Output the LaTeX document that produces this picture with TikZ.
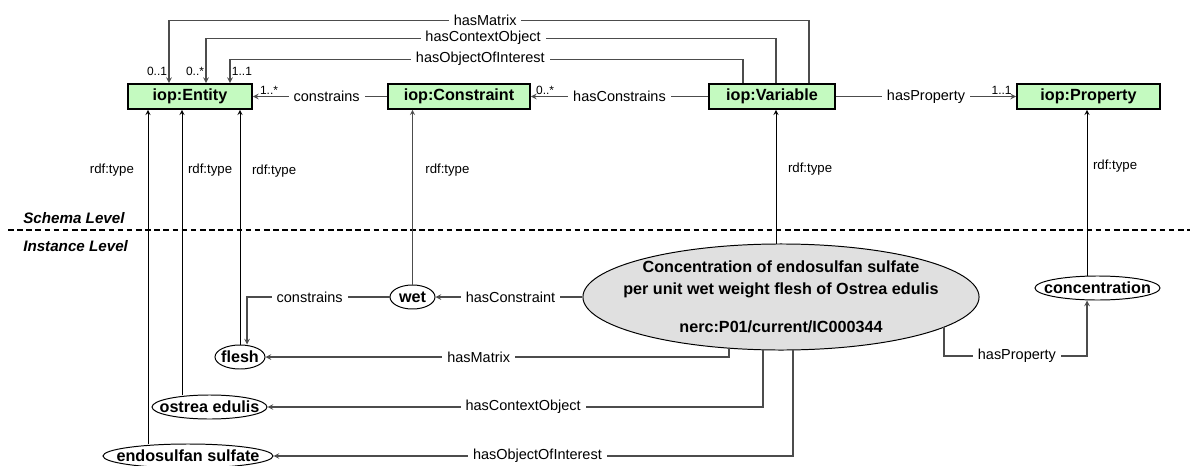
\documentclass[tikz,border=0pt]{standalone}
\usepackage{fontspec}
\setmainfont{Liberation Sans}
\usetikzlibrary{shapes.geometric, arrows}
\definecolor{clsgreen}{HTML}{C4FAC0}
\definecolor{instgray}{HTML}{E0E0E0}
\tikzstyle{cls} = [rectangle, draw=black, line width=1.3pt, fill=clsgreen, minimum height=0.625cm, inner sep=0pt, font=\fontsize{11.5}{13}\selectfont\bfseries]
\tikzstyle{inst} = [ellipse, draw=black, line width=0.7pt, inner xsep=-0.3cm, inner ysep=-0.15cm, minimum height=0.6cm, font=\fontsize{11.5}{13}\selectfont\bfseries]
\tikzstyle{arrow} = [->, >=stealth, line width=0.6pt]
\tikzstyle{rel} = [arrow, line width=0.8pt, draw=black!70]
\tikzstyle{lbl} = [fill=white, inner sep=3.5pt, font=\fontsize{10.3}{12}\selectfont]
\tikzstyle{card} = [inner sep=1pt, font=\fontsize{8.5}{10}\selectfont]
\tikzstyle{typ} = [inner sep=4pt, font=\fontsize{9.4}{11}\selectfont]
\tikzstyle{level} = [anchor=west, inner sep=0pt, font=\fontsize{10.8}{12}\selectfont\bfseries\itshape]

\begin{document}
\begin{tikzpicture}[x=0.025cm, y=-0.025cm]
\useasboundingbox (0,0) rectangle (1190,466);

\node[cls, minimum width=3.1cm] (ent) at (190,96.5) {iop:Entity};
\node[cls, minimum width=3.55cm] (con) at (459,96.5) {iop:Constraint};
\node[cls, minimum width=3.15cm] (var) at (772,96.5) {iop:Variable};
\node[cls, minimum width=3.575cm] (prop) at (1088.5,96.5) {iop:Property};

\node[inst, minimum width=4.25cm] (endo) at (188,456) {endosulfan sulfate};
\node[inst, minimum width=2.875cm] (ostrea) at (209.5,407) {ostrea edulis};
\node[inst, minimum width=1.25cm] (flesh) at (240,357) {flesh};
\node[inst, minimum width=1.125cm] (wet) at (412.5,297) {wet};
\node[inst, minimum width=3.125cm] (conc) at (1097.5,288) {concentration};
\node[inst, fill=instgray, minimum width=9.9cm, minimum height=2.65cm, inner xsep=-0.45cm, inner ysep=-0.1cm, align=center, font=\fontsize{11.5}{15.6}\selectfont\bfseries] (obs) at (781,297) {Concentration of endosulfan sulfate\\per unit wet weight flesh of Ostrea edulis\\[0.4cm]nerc:P01/current/IC000344};

\node[level] (schema) at (23,218) {Schema Level};
\node[level] (instance) at (23,246) {Instance Level};
\draw[line width=1.3pt, dash pattern=on 4pt off 2.5pt] (8,230) -- (1190,230);

\draw[rel] ([xshift=0.925cm]var.north) -- ++(0,-63) -| node[lbl, pos=0.253]{hasMatrix} node[card, pos=0.905, left]{0..1} ([xshift=-0.525cm]ent.north);
\draw[rel] ([xshift=0.1cm]var.north) -- ++(0,-45) -| node[lbl, pos=0.257]{hasContextObject} node[card, pos=0.867, left]{0..*} ([xshift=0.4cm]ent.north);
\draw[rel] ([xshift=-0.725cm]var.north) -- ++(0,-24) -| node[lbl, pos=0.256]{hasObjectOfInterest} node[card, pos=0.75, right]{1..1} ([xshift=1cm]ent.north);
\draw[rel] (con.west) -- node[lbl, pos=0.45]{constrains} node[card, pos=0.88, above]{1..*} (ent.east);
\draw[rel] (var.west) -- node[lbl]{hasConstrains} node[card, pos=0.92, above]{0..*} (con.east);
\draw[rel] (var.east) -- node[lbl]{hasProperty} node[card, pos=0.92, above]{1..1} (prop.west);

\coordinate (endoTop) at ([xshift=-1cm]endo.north);
\coordinate (ostreaTop) at ([xshift=-0.6875cm]ostrea.north);
\coordinate (obsTop) at (776,244);
\coordinate (concTop) at ([xshift=-0.2625cm]conc.north);
\draw[arrow] (endoTop) -- node[typ, pos=0.82, left, xshift=-0.2cm]{rdf:type} (endoTop |- ent.south);
\draw[arrow] (ostreaTop) -- node[typ, pos=0.79, right]{rdf:type} (ostreaTop |- ent.south);
\draw[arrow] (flesh.north) -- node[typ, pos=0.74, right, xshift=0.15cm]{rdf:type} (flesh.north |- ent.south);
\draw[arrow, draw=black!70] (wet.north) -- node[typ, pos=0.655, right, xshift=0.17cm]{rdf:type} (wet.north |- con.south);
\draw[arrow] (obsTop) -- node[typ, pos=0.56, right, xshift=0.15cm]{rdf:type} (obsTop |- var.south);
\draw[arrow] (concTop) -- node[typ, pos=0.66, right]{rdf:type} (concTop |- prop.south);

\coordinate (fleshIn) at ([xshift=0.175cm]flesh.north);
\coordinate (mOut) at (729,348);
\coordinate (cOut) at (763,350);
\coordinate (oOut) at (793,350);
\coordinate (pOut) at (944,327);
\coordinate (concIn) at ([xshift=-0.2625cm]conc.south);
\draw[rel] (obs.west) -- node[lbl, pos=0.49]{hasConstraint} (wet.east);
\draw[rel] (wet.west) -| node[lbl, pos=0.28]{constrains} (fleshIn);
\draw[rel] (mOut) |- node[lbl, pos=0.77]{hasMatrix} (flesh.east);
\draw[rel] (cOut) |- node[lbl, pos=0.742]{hasContextObject} (ostrea.east);
\draw[rel] (oOut) |- node[lbl, pos=0.746]{hasObjectOfInterest} (endo.east);
\draw[rel] (pOut) -- ++(0,29) -| node[lbl, pos=0.255]{hasProperty} (concIn);
\end{tikzpicture}
\end{document}
